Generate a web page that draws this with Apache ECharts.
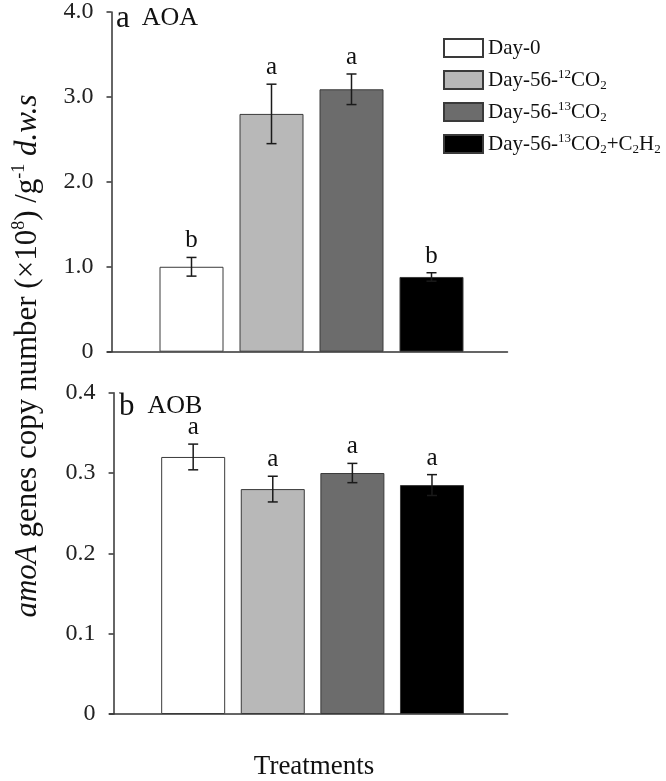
<!DOCTYPE html>
<html>
<head>
<meta charset="utf-8">
<script src="https://cdn.jsdelivr.net/npm/echarts@6/dist/echarts.min.js"></script>
<style>
html,body{margin:0;padding:0;background:#fff;}
#chart{width:666px;height:781px;}
</style>
</head>
<body>
<div id="chart"></div>
<script>
// ---- data ----
const treatments = ['Day-0', 'Day-56-12CO2', 'Day-56-13CO2', 'Day-56-13CO2+C2H2'];
const treatmentLabels = ['Day-0', 'Day-56-{sup|12}CO{sub|2}', 'Day-56-{sup|13}CO{sub|2}', 'Day-56-{sup|13}CO{sub|2}+C{sub|2}H{sub|2}'];
const treatmentIndex = [1, 2, 3, 4];
const aoaMean = [1.0, 2.8, 3.09, 0.88];
const aoaErr = [0.11, 0.35, 0.18, 0.05];
const aoaLetters = ['b', 'a', 'a', 'b'];
const aobMean = [0.320, 0.280, 0.300, 0.285];
const aobErr = [0.016, 0.016, 0.012, 0.013];
const aobLetters = ['a', 'a', 'a', 'a'];
const aoaTicks = [0, 1, 2, 3, 4];
const aobTicks = [0, 0.1, 0.2, 0.3, 0.4];
const barColors = ['#ffffff', '#b8b8b8', '#6c6c6c', '#000000'];

const FONT = 'Liberation Serif';
const chart = echarts.init(document.getElementById('chart'), null, {renderer: 'canvas'});

function tickFmt(v) { return v === 0 ? '0' : v.toFixed(1); }

function errSeries(g, means, errs, letters) {
  return {
    type: 'custom',
    xAxisIndex: g, yAxisIndex: g,
    z: 10,
    silent: true,
    data: means.map((m, i) => [treatmentIndex[i], m, errs[i]]),
    encode: {x: 0, y: 1},
    renderItem: function (params, api) {
      const x = api.value(0), m = api.value(1), e = api.value(2);
      const top = api.coord([x, m + e]);
      const bot = api.coord([x, m - e]);
      const cap = 5;
      const st = {stroke: '#1a1a1a', lineWidth: 1.5};
      return {
        type: 'group',
        children: [
          {type: 'line', shape: {x1: top[0], y1: top[1], x2: bot[0], y2: bot[1]}, style: st},
          {type: 'line', shape: {x1: top[0] - cap, y1: top[1], x2: top[0] + cap, y2: top[1]}, style: st},
          {type: 'line', shape: {x1: bot[0] - cap, y1: bot[1], x2: bot[0] + cap, y2: bot[1]}, style: st},
          {type: 'text', style: {text: letters[params.dataIndex], x: top[0], y: top[1] - 4,
            align: 'center', verticalAlign: 'bottom', fill: '#111', font: '25px "' + FONT + '"'}}
        ]
      };
    }
  };
}

const series = [];
[[aoaMean, 0], [aobMean, 1]].forEach(([means, g]) => {
  treatments.forEach((name, i) => {
    series.push({
      type: 'bar',
      name: name,
      xAxisIndex: g, yAxisIndex: g,
      barWidth: 64,
      barGap: '-100%',
      data: [[treatmentIndex[i], means[i]]],
      itemStyle: {color: barColors[i], borderColor: '#3a3a3a', borderWidth: 1}
    });
  });
});
series.push(errSeries(0, aoaMean, aoaErr, aoaLetters));
series.push(errSeries(1, aobMean, aobErr, aobLetters));

const axisLineStyle = {lineStyle: {color: '#333', width: 1.5}};
const xAxisCommon = {
  type: 'value', min: -0.05, max: 4.95,
  axisLine: Object.assign({show: true}, axisLineStyle),
  axisTick: {show: false}, axisLabel: {show: false}, splitLine: {show: false}
};
const yAxisCommon = {
  type: 'value',
  axisLine: Object.assign({show: true}, axisLineStyle),
  axisTick: {show: true, inside: false, length: 5, lineStyle: {color: '#333', width: 1.5}},
  axisLabel: {formatter: tickFmt, color: '#222', fontFamily: FONT, fontSize: 24, margin: 14},
  splitLine: {show: false}
};

const option = {
  backgroundColor: '#fff',
  animation: false,
  grid: [
    {left: 107.5, width: 400, top: 6.7, height: 345},
    {left: 109.6, width: 398, top: 392.7, height: 343}
  ],
  xAxis: [
    Object.assign({gridIndex: 0}, xAxisCommon),
    Object.assign({gridIndex: 1, name: 'Treatments', nameLocation: 'middle', nameGap: 39,
      nameTextStyle: {fontFamily: FONT, fontSize: 27, color: '#111', padding: [0, 0, 0, 11]}}, xAxisCommon)
  ],
  yAxis: [
    Object.assign({gridIndex: 0, min: aoaTicks[0], max: aoaTicks[aoaTicks.length - 1], interval: 1}, yAxisCommon),
    Object.assign({gridIndex: 1, min: aobTicks[0], max: aobTicks[aobTicks.length - 1], interval: 0.1}, yAxisCommon)
  ],
  legend: {
    data: treatments,
    orient: 'vertical',
    left: 443, top: 36,
    padding: 0,
    itemWidth: 39, itemHeight: 18,
    itemGap: 7,
    icon: 'rect',
    selectedMode: false,
    formatter: function (name) { return treatmentLabels[treatments.indexOf(name)]; },
    textStyle: {
      fontFamily: FONT, fontSize: 21, color: '#111', lineHeight: 24,
      rich: {
        sup: {fontFamily: FONT, fontSize: 13, color: '#111', lineHeight: 24, verticalAlign: 'top', padding: [0, 0, 10, 0]},
        sub: {fontFamily: FONT, fontSize: 13, color: '#111', lineHeight: 24, verticalAlign: 'bottom', padding: [12, 0, 0, 0]}
      }
    }
  },
  graphic: [
    {
      type: 'text', x: 28, y: 356, rotation: Math.PI / 2,
      style: {
        text: '{i|amoA} genes copy number (×10{sup|8}) /g{sup|-1} {i|d.w.s}',
        align: 'center', verticalAlign: 'middle',
        font: '31px "' + FONT + '"', fill: '#111',
        rich: {
          i: {fontStyle: 'italic', fontFamily: FONT, fontSize: 31, lineHeight: 36},
          sup: {fontFamily: FONT, fontSize: 18, lineHeight: 36, verticalAlign: 'top', padding: [0, 0, 15, 0]}
        }
      }
    },
    {
      type: 'text', x: 116, y: 34,
      style: {
        text: '{p|a}{n|AOA}', verticalAlign: 'bottom', fill: '#111',
        font: '25px "' + FONT + '"',
        rich: {p: {fontFamily: FONT, fontSize: 31}, n: {fontFamily: FONT, fontSize: 26, padding: [0, 0, 0, 12]}}
      }
    },
    {
      type: 'text', x: 119, y: 422,
      style: {
        text: '{p|b}{n|AOB}', verticalAlign: 'bottom', fill: '#111',
        font: '25px "' + FONT + '"',
        rich: {p: {fontFamily: FONT, fontSize: 31}, n: {fontFamily: FONT, fontSize: 26, padding: [0, 0, 0, 13]}}
      }
    }
  ],
  series: series
};
chart.setOption(option);
</script>
</body>
</html>
